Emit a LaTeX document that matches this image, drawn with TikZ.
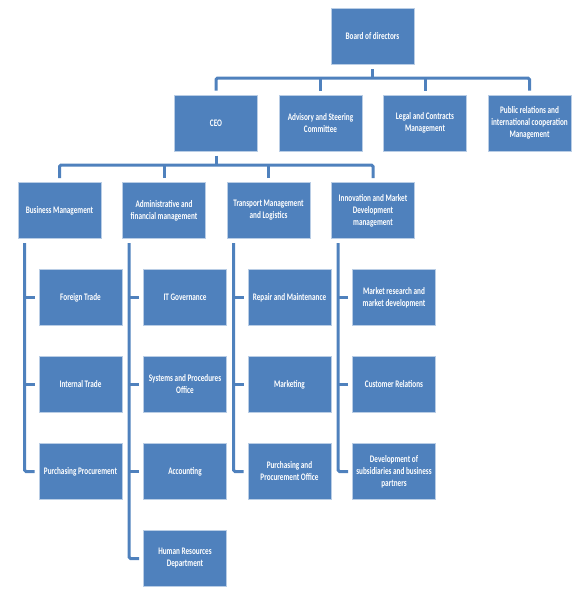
\documentclass[tikz,border=0pt]{standalone}
\usepackage{fontspec}
\setmainfont{Carlito}[FakeStretch=0.72]
\usetikzlibrary{positioning}
\definecolor{boxblue}{HTML}{4F81BD}
\definecolor{boxedge}{HTML}{B9CDE5}

\begin{document}
\begin{tikzpicture}[x=1pt, y=-1pt,
    font=\fontsize{10}{12}\selectfont\bfseries,
    node distance=87pt and 104.5pt,
    unit/.style={draw=boxedge, line width=0.6pt, fill=boxblue, text=white, on grid,
        minimum width=83pt, minimum height=56pt, inner sep=1pt, outer sep=4.5pt, align=center},
    link/.style={draw=boxblue, line width=3pt, rounded corners=1.5pt}]
\useasboundingbox (0,0) rectangle (582,603);

% top levels
\node [unit] (board) at (372.5,36.5) {Board of directors};
\node [unit] (ceo) at (216,123) {CEO};
\node [unit] (asc) [right=of ceo] {Advisory and Steering\\Committee};
\node [unit] (lcm) [right=of asc] {Legal and Contracts\\Management};
\node [unit] (pri) [right=of lcm] {Public relations and\\international cooperation\\Management};

% departments
\node [unit] (bm) at (59.5,210.5) {Business Management};
\node [unit] (afm) [right=of bm] {Administrative and\\financial management};
\node [unit] (tml) [right=of afm] {Transport Management\\and Logistics};
\node [unit] (imd) [right=of tml] {Innovation and Market\\Development\\management};

% business units
\node [unit] (ft) [below right=87pt and 21pt of bm] {Foreign Trade};
\node [unit] (it) [below=of ft] {Internal Trade};
\node [unit] (pp) [below=of it] {Purchasing Procurement};

% administrative units
\node [unit] (itg) [below right=87pt and 21pt of afm] {IT Governance};
\node [unit] (spo) [below=of itg] {Systems and Procedures\\Office};
\node [unit] (acc) [below=of spo] {Accounting};
\node [unit] (hrd) [below=of acc] {Human Resources\\Department};

% transport units
\node [unit] (rm) [below right=87pt and 21pt of tml] {Repair and Maintenance};
\node [unit] (mkt) [below=of rm] {Marketing};
\node [unit] (ppo) [below=of mkt] {Purchasing and\\Procurement Office};

% innovation units
\node [unit] (mrd) [below right=87pt and 21pt of imd] {Market research and\\market development};
\node [unit] (cr) [below=of mrd] {Customer Relations};
\node [unit] (dsb) [below=of cr] {Development of\\subsidiaries and business\\partners};

% board to first row
\coordinate (bus1) at (372.5,78);
\draw [link] (board) -- (bus1);
\draw [link] (ceo.north) |- (bus1) -| (pri.north);
\draw [link] (asc.north) -- (asc.north |- bus1);
\draw [link] (lcm.north) -- (lcm.north |- bus1);

% ceo to departments
\coordinate (bus2) at (216,165);
\draw [link] (ceo) -- (bus2);
\draw [link] (bm.north) |- (bus2) -| (imd.north);
\draw [link] (afm.north) -- (afm.north |- bus2);
\draw [link] (tml.north) -- (tml.north |- bus2);

% departments to units
\draw [link] ([xshift=-10pt]ft.west |- bm.south) |- (pp.west);
\draw [link] (ft.west) -- ++(-10,0);
\draw [link] (it.west) -- ++(-10,0);

\draw [link] ([xshift=-10pt]itg.west |- afm.south) |- (hrd.west);
\draw [link] (itg.west) -- ++(-10,0);
\draw [link] (spo.west) -- ++(-10,0);
\draw [link] (acc.west) -- ++(-10,0);

\draw [link] ([xshift=-10pt]rm.west |- tml.south) |- (ppo.west);
\draw [link] (rm.west) -- ++(-10,0);
\draw [link] (mkt.west) -- ++(-10,0);

\draw [link] ([xshift=-10pt]mrd.west |- imd.south) |- (dsb.west);
\draw [link] (mrd.west) -- ++(-10,0);
\draw [link] (cr.west) -- ++(-10,0);

\end{tikzpicture}
\end{document}
